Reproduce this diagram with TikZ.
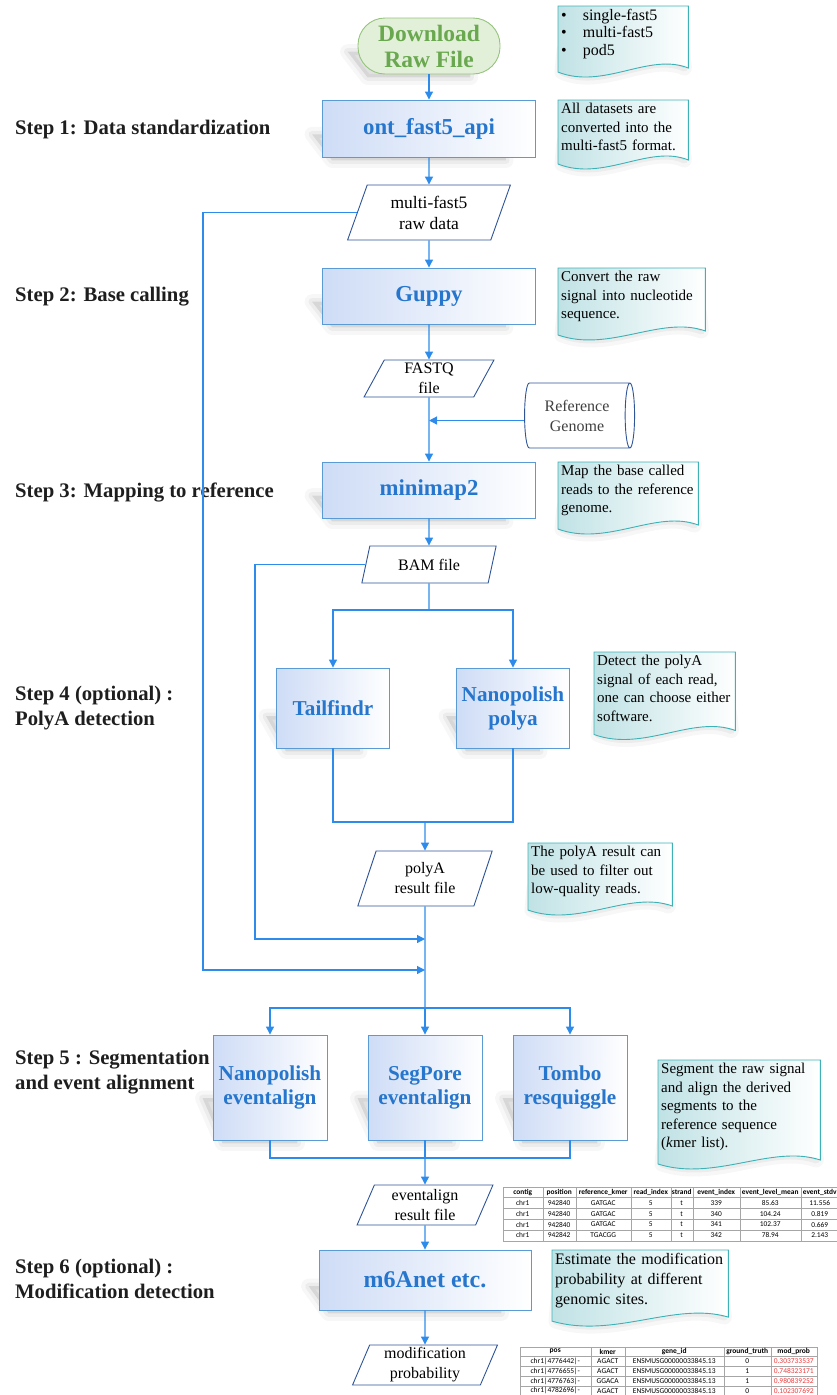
\documentclass[tikz,border=0pt]{standalone}
\usepackage{fontspec}
\setmainfont{Liberation Serif}
\newfontfamily\tablefont{Carlito}
\usepackage{tikz}
\usetikzlibrary{positioning,backgrounds,matrix,calc,arrows.meta,shapes.geometric}

\definecolor{flowline}{RGB}{45,140,235}
\definecolor{procdraw}{RGB}{91,155,213}
\definecolor{procfill}{RGB}{206,220,246}
\definecolor{proctext}{RGB}{38,118,205}
\definecolor{filedraw}{RGB}{47,85,151}
\definecolor{notedraw}{RGB}{60,178,182}
\definecolor{notefill}{RGB}{192,226,229}
\definecolor{startdraw}{RGB}{150,196,125}
\definecolor{startfill}{RGB}{226,240,217}
\definecolor{starttext}{RGB}{106,168,79}
\definecolor{steptext}{RGB}{30,30,30}
\definecolor{probred}{RGB}{235,60,60}

\tikzset{
  flow/.style={draw=flowline, line width=1.2pt, -{Triangle[length=8pt,width=8pt]}},
  link/.style={draw=flowline, line width=1.2pt},
  castshade/.style={fill=black, fill opacity=0.09, draw=black, draw opacity=0.045, line width=7pt, line join=round,
      preaction={draw=black, draw opacity=0.03, line width=15pt, line join=round}},
  proc/.style={rectangle, draw=procdraw, line width=0.9pt, left color=procfill, right color=white, text=proctext, font=\fontsize{21.2}{24}\selectfont\bfseries, align=center},
  bigproc/.style={proc, minimum width=213pt, minimum height=56pt, font=\fontsize{22.8}{26}\selectfont\bfseries},
  start/.style={rectangle, rounded corners=27pt, draw=startdraw, line width=0.9pt, fill=startfill, text=starttext, font=\fontsize{23.5}{26}\selectfont\bfseries, align=center, minimum width=142pt, minimum height=56pt},
  datafile/.style={trapezium, trapezium left angle=70, trapezium right angle=110, trapezium stretches=true, draw=filedraw, line width=0.9pt, fill=white, align=center, font=\fontsize{16}{20}\selectfont, inner sep=0pt},
  store/.style={cylinder, aspect=0.3, draw=filedraw, line width=0.9pt, fill=white, align=center, text=black!75, font=\fontsize{16}{20}\selectfont, minimum width=65pt, minimum height=110pt, inner sep=0pt},
  steplabel/.style={anchor=west, align=left, font=\fontsize{20.7}{25}\selectfont\bfseries, text=steptext, inner sep=0pt},
  notetext/.style={anchor=north west, align=left, inner sep=3pt, font=\fontsize{15}{18.5}\selectfont},
  notebox/.style={draw=notedraw, line width=0.9pt, left color=notefill, right color=white},
  cell/.style={draw=black!35, line width=0.4pt, inner sep=0pt, minimum height=10.8pt, font=\tablefont\fontsize{7.4}{8}\selectfont, anchor=center},
}

% soft shadow cast to the lower left of a box
\newcommand{\castshadow}[1]{%
  \path[castshade] let \p1=(#1.south west), \p2=(#1.north east) in
    ({\x1+10pt},{\y1-3pt}) -- ({\x2-30pt},{\y1-3pt}) -- ({\x2-30pt},{\y1+0.4*(\y2-\y1)})
    -- ({\x1-10pt},{\y1+0.4*(\y2-\y1)}) -- cycle;}

% document shape with a wavy lower edge round a note
\newcommand{\wavenote}[1]{%
  \path[castshade, xshift=-10pt, yshift=-8pt] let \p1=(#1.north west), \p2=(#1.south east) in
    ({\x1+6pt},{\y2+12pt}) -- ({\x2-6pt},{\y2+12pt}) -- ({\x2-4pt},{\y2-6pt})
    .. controls ({\x2-0.3*(\x2-\x1)},{\y2+10pt}) and ({\x1+0.35*(\x2-\x1)},{\y2-28pt}) .. ({\x1+4pt},{\y2-10pt}) -- cycle;
  \path[notebox] let \p1=(#1.north west), \p2=(#1.south east) in
    (\x1,\y1) -- (\x2,\y1) -- (\x2,{\y2-6pt})
    .. controls ({\x2-0.3*(\x2-\x1)},{\y2+10pt}) and ({\x1+0.35*(\x2-\x1)},{\y2-28pt}) .. (\x1,{\y2-10pt}) -- cycle;}

\begin{document}
\begin{tikzpicture}[x=1pt, y=-1pt]
    \useasboundingbox (0,0) rectangle (837,1395);

    % main column
    \node[start] (raw) at (429,46) {Download\\Raw File};
    \node[bigproc, minimum height=57pt] (ont) at (429,128.5) {ont\_fast5\_api};
    \node[datafile, minimum width=163pt, minimum height=55pt, font=\fontsize{17.5}{21}\selectfont] (rawdata) at (429,212.5) {multi-fast5\\raw data};
    \node[bigproc] (guppy) at (429,296) {Guppy};
    \node[datafile, minimum width=130pt, minimum height=37pt] (fastq) at (429,378.5) {FASTQ\\file};
    \node[store] (refgen) at (577,415.5) {Reference\\Genome};
    \node[bigproc] (minimap) at (429,490) {minimap2};
    \node[datafile, minimum width=135pt, minimum height=37pt] (bam) at (429,564.5) {BAM file};
    \node[proc, minimum width=113pt, minimum height=80pt] (tail) at (333,708) {Tailfindr};
    \node[proc, minimum width=113pt, minimum height=80pt] (napoly) at (513,708) {Nanopolish\\polya};
    \node[datafile, minimum width=135pt, minimum height=55pt] (polya) at (425,878.5) {polyA\\result file};
    \node[proc, minimum width=114pt, minimum height=105pt] (nanoev) at (270,1087.5) {Nanopolish\\eventalign};
    \node[proc, minimum width=114pt, minimum height=105pt] (segpore) at (425,1087.5) {SegPore\\eventalign};
    \node[proc, minimum width=114pt, minimum height=105pt] (tombo) at (570,1087.5) {Tombo\\resquiggle};
    \node[datafile, minimum width=137pt, minimum height=40pt] (evres) at (425,1205) {eventalign\\result file};
    \node[proc, minimum width=212pt, minimum height=60pt, font=\fontsize{24}{27}\selectfont\bfseries] (m6a) at (425,1280) {m6Anet etc.};
    \node[datafile, minimum width=145pt, minimum height=40pt] (modprob) at (425,1365) {modification\\probability};

    % step labels
    \node[steplabel] (step1) at (15,130) {Step 1: Data standardization};
    \node[steplabel] (step2) at (15,297) {Step 2: Base calling};
    \node[steplabel] (step3) at (15,492) {Step 3: Mapping to reference};
    \node[steplabel] (step4) at (15,708) {Step 4 (optional) :\\PolyA detection};
    \node[steplabel] (step5) at (15,1072) {Step 5 : Segmentation\\and event alignment};
    \node[steplabel] (step6) at (15,1279) {Step 6 (optional) :\\Modification detection};

    % notes
    \node[notetext, text width=124pt, font=\fontsize{16}{17.5}\selectfont] (n1) at (558,6)
        {\textbullet\hspace{16pt}single-fast5\\\textbullet\hspace{16pt}multi-fast5\\\textbullet\hspace{16pt}pod5};
    \node[notetext, text width=124pt] (n2) at (558,100) {All datasets are\\converted into the\\multi-fast5 format.};
    \node[notetext, text width=141pt] (n3) at (558,268) {Convert the raw\\signal into nucleotide\\sequence.};
    \node[notetext, text width=134pt] (n4) at (558,462) {Map the base called\\reads to the reference\\genome.};
    \node[notetext, text width=135pt] (n5) at (594,652) {Detect the polyA\\signal of each read,\\one can choose either\\software.};
    \node[notetext, text width=138pt] (n6) at (528,843) {The polyA result can\\be used to filter out\\low-quality reads.};
    \node[notetext, text width=156pt] (n7) at (658,1060) {Segment the raw signal\\and align the derived\\segments to the\\reference sequence\\(\textit{k}mer list).};
    \node[notetext, text width=170pt, font=\fontsize{16}{20}\selectfont] (n8) at (552,1250) {Estimate the modification\\probability at different\\genomic sites.};

    \begin{pgfonlayer}{background}
        \foreach \bx in {raw,ont,guppy,minimap,tail,napoly,nanoev,segpore,tombo,m6a}
            {\castshadow{\bx}}
        \foreach \nt in {n1,n2,n3,n4,n5,n6,n7,n8}
            {\wavenote{\nt}}
    \end{pgfonlayer}

    % tables
    \matrix (evtable) [matrix of nodes, anchor=north west, nodes={cell},
        column sep=-0.4pt, row sep=-0.4pt,
        row 1/.style={nodes={font=\tablefont\bfseries\fontsize{7.4}{8}\selectfont}},
        column 1/.style={nodes={minimum width=40pt}},
        column 2/.style={nodes={minimum width=33pt}},
        column 3/.style={nodes={minimum width=55pt}},
        column 4/.style={nodes={minimum width=40pt}},
        column 5/.style={nodes={minimum width=22pt}},
        column 6/.style={nodes={minimum width=47pt}},
        column 7/.style={nodes={minimum width=61pt}},
        column 8/.style={nodes={minimum width=38pt}}] at (499,1183) {
        contig & position & reference\_kmer & read\_index & strand & event\_index & event\_level\_mean & event\_stdv \\
        chr1 & 942840 & GATGAC & 5 & t & 339 & 85.63 & 11.556 \\
        chr1 & 942840 & GATGAC & 5 & t & 340 & 104.24 & 0.819 \\
        chr1 & 942840 & GATGAC & 5 & t & 341 & 102.37 & 0.669 \\
        chr1 & 942842 & TGACGG & 5 & t & 342 & 78.94 & 2.143 \\
    };
    \matrix (probtable) [matrix of nodes, anchor=north west, nodes={cell, minimum height=9.8pt, font=\tablefont\fontsize{7.5}{8}\selectfont},
        column sep=-0.4pt, row sep=-0.4pt,
        row 1/.style={nodes={font=\tablefont\bfseries\fontsize{7.5}{8}\selectfont}},
        column 1/.style={nodes={minimum width=71pt}},
        column 2/.style={nodes={minimum width=34pt}},
        column 3/.style={nodes={minimum width=99pt}},
        column 4/.style={nodes={minimum width=47pt}},
        column 5/.style={nodes={minimum width=46pt, text=probred}},
        row 1 column 5/.style={nodes={text=black}}] at (516,1343) {
        pos & kmer & gene\_id & ground\_truth & mod\_prob \\
        chr1|4776442|- & AGACT & ENSMUSG00000033845.13 & 0 & 0.303733537 \\
        chr1|4776655|- & AGACT & ENSMUSG00000033845.13 & 1 & 0.748323171 \\
        chr1|4776763|- & GGACA & ENSMUSG00000033845.13 & 1 & 0.980839252 \\
        chr1|4782696|- & AGACT & ENSMUSG00000033845.13 & 0 & 0.102307692 \\
    };

    % turning points
    \coordinate (refin) at ([yshift=-5pt]refgen.west);
    \coordinate (bamsplit) at (429,610);
    \coordinate (polyjoin) at (425,822);
    \coordinate (innerturn) at (255,939);
    \coordinate (outerturn) at (203,970);
    \coordinate (evsplit) at (425,1008);
    \coordinate (evjoin) at (425,1158);

    % connectors
    \draw[flow] (raw.south) -- (ont.north);
    \draw[flow] (ont.south) -- (rawdata.north);
    \draw[flow] (rawdata.south) -- (guppy.north);
    \draw[flow] (guppy.south) -- (fastq.north);
    \draw[flow] (fastq.south) -- (minimap.north);
    \draw[flow] (refin) -- (refin -| fastq.south);
    \draw[flow] (minimap.south) -- (bam.north);
    \draw[link] (bam.south) -- (bamsplit);
    \draw[flow] (bamsplit) -| (tail.north);
    \draw[flow] (bamsplit) -| (napoly.north);
    \draw[link] (tail.south) |- (polyjoin);
    \draw[link] (napoly.south) |- (polyjoin);
    \draw[flow] (polyjoin) -- (polya.north);
    \draw[link] (polya.south) -- (evsplit);
    \draw[flow] (bam.west) -| (innerturn) -- (innerturn -| polya.south);
    \draw[flow] (rawdata.west) -| (outerturn) -- (outerturn -| polya.south);
    \draw[flow] (evsplit) -| (nanoev.north);
    \draw[flow] (evsplit) -- (segpore.north);
    \draw[flow] (evsplit) -| (tombo.north);
    \draw[link] (nanoev.south) |- (evjoin);
    \draw[link] (tombo.south) |- (evjoin);
    \draw[link] (segpore.south) -- (evjoin);
    \draw[flow] (evjoin) -- (evres.north);
    \draw[flow] (evres.south) -- (m6a.north);
    \draw[flow] (m6a.south) -- (modprob.north);
\end{tikzpicture}
\end{document}
